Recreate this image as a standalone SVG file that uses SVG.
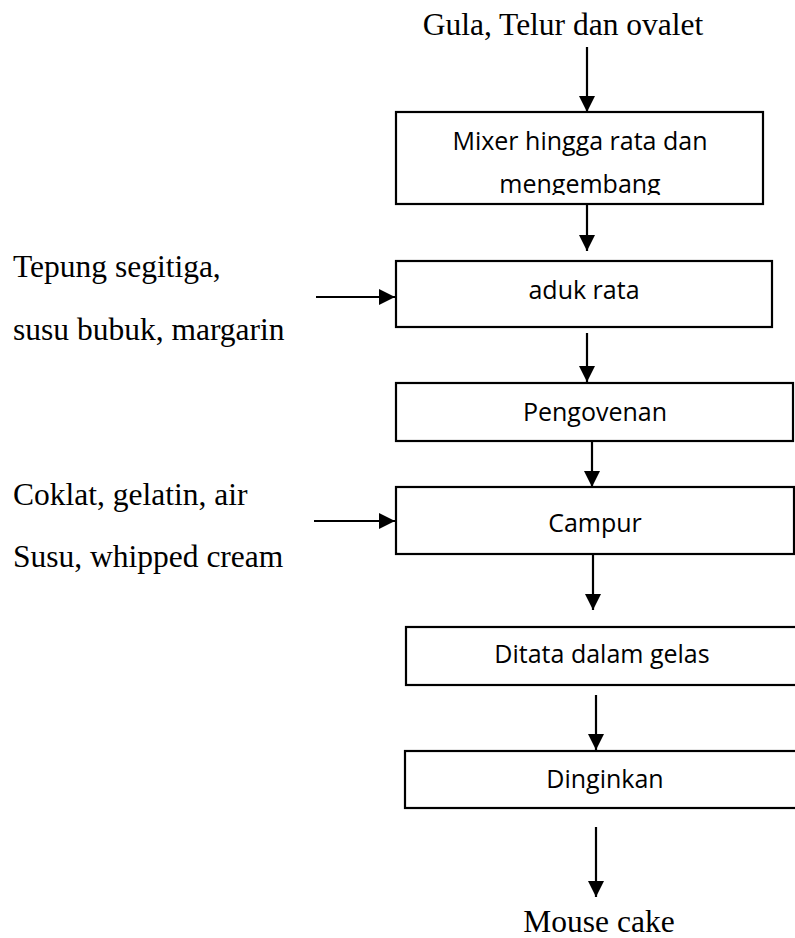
<svg xmlns="http://www.w3.org/2000/svg" width="795" height="938" viewBox="0 0 795 938">
<style>
.box{fill:#fff;stroke:#000;stroke-width:2.2}
.lbl{font-family:"Open Sans","Noto Sans",sans-serif;font-size:25px;fill:#000;text-anchor:middle}
.ser{font-family:"Liberation Serif","Times New Roman",serif;font-size:31.5px;fill:#000}
.con line{stroke:#000;stroke-width:2.2}
</style>
<defs>
<marker id="ah" markerUnits="userSpaceOnUse" markerWidth="16" markerHeight="16" viewBox="0 0 16 16" refX="16" refY="8" orient="auto">
<path d="M0,0 L16,8 L0,16 Z" fill="#000"/>
</marker>
<clipPath id="c1"><rect x="396" y="112" width="367" height="83"/></clipPath>
</defs>
<rect width="795" height="938" fill="#fff"/>
<g id="t-gula"><text class="ser" x="563" y="35" text-anchor="middle">Gula, Telur dan ovalet</text></g>
<g id="t-tepung"><text class="ser" x="13" y="277">Tepung segitiga,</text><text class="ser" x="13" y="340">susu bubuk, margarin</text></g>
<g id="t-coklat"><text class="ser" x="13" y="505">Coklat, gelatin, air</text><text class="ser" x="13" y="567">Susu, whipped cream</text></g>
<g id="t-mouse"><text class="ser" x="599" y="932" text-anchor="middle">Mouse cake</text></g>
<g id="n1"><rect class="box" x="396" y="112" width="367" height="92"/><g clip-path="url(#c1)"><text class="lbl" x="580" y="150">Mixer hingga rata dan</text><text class="lbl" x="580" y="193">mengembang</text></g></g>
<g id="n2"><rect class="box" x="396" y="261" width="376" height="66"/><text class="lbl" x="584" y="299">aduk rata</text></g>
<g id="n3"><rect class="box" x="396" y="383" width="397" height="58"/><text class="lbl" x="595" y="421">Pengovenan</text></g>
<g id="n4"><rect class="box" x="396" y="487" width="398" height="67"/><text class="lbl" x="595" y="532">Campur</text></g>
<g id="n5"><rect class="box" x="406" y="627" width="400" height="58"/><text class="lbl" x="602" y="663">Ditata dalam gelas</text></g>
<g id="n6"><rect class="box" x="405" y="751" width="410" height="57"/><text class="lbl" x="605" y="788">Dinginkan</text></g>
<g id="connectors" class="con">
<line x1="587" y1="47" x2="587" y2="112" marker-end="url(#ah)"/>
<line x1="587" y1="205" x2="587" y2="251" marker-end="url(#ah)"/>
<line x1="316" y1="297" x2="395" y2="297" marker-end="url(#ah)"/>
<line x1="587" y1="333" x2="587" y2="382" marker-end="url(#ah)"/>
<line x1="592" y1="442" x2="592" y2="487" marker-end="url(#ah)"/>
<line x1="314" y1="521" x2="395" y2="521" marker-end="url(#ah)"/>
<line x1="593" y1="555" x2="593" y2="610" marker-end="url(#ah)"/>
<line x1="596" y1="695" x2="596" y2="750" marker-end="url(#ah)"/>
<line x1="596" y1="827" x2="596" y2="897" marker-end="url(#ah)"/>
</g>
</svg>
